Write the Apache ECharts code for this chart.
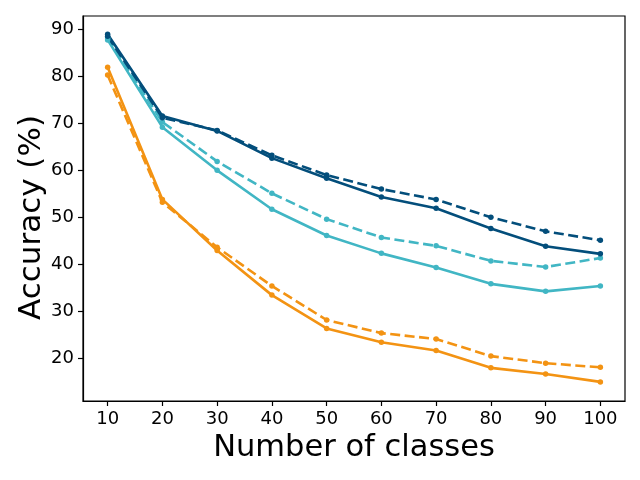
<!DOCTYPE html>
<html>
<head>
<meta charset="utf-8">
<script src="https://cdn.jsdelivr.net/npm/echarts@6/dist/echarts.min.js"></script>
<style>html,body{margin:0;padding:0;background:#fff}#c{width:640px;height:480px}</style>
</head>
<body>
<div id="c"></div>
<script>
const classes = [10, 20, 30, 40, 50, 60, 70, 80, 90, 100];
const darkSolid = [89.0, 71.6, 68.4, 62.6, 58.3, 54.3, 51.9, 47.6, 43.8, 42.2];
const darkDashed = [88.6, 71.2, 68.5, 63.2, 59.0, 56.0, 53.8, 50.0, 47.0, 45.1];
const cyanSolid = [87.8, 69.2, 60.0, 51.7, 46.1, 42.3, 39.3, 35.8, 34.2, 35.35];
const cyanDashed = [88.2, 70.3, 61.9, 55.1, 49.6, 45.7, 43.9, 40.7, 39.4, 41.3];
const orangeSolid = [82.0, 53.8, 42.9, 33.4, 26.3, 23.35, 21.6, 17.9, 16.6, 14.9];
const orangeDashed = [80.3, 53.2, 43.6, 35.35, 28.1, 25.3, 24.05, 20.4, 18.9, 18.0];
const xTicks = [10, 20, 30, 40, 50, 60, 70, 80, 90, 100];
const yTicks = [20, 30, 40, 50, 60, 70, 80, 90];

const DARK = '#034e7b', CYAN = '#41b6c4', ORANGE = '#f39313';
const font = 'DejaVu Sans';

function mk(vals, color, dashed) {
  return {
    type: 'line',
    data: classes.map((c, i) => [c, vals[i]]),
    symbol: 'circle',
    symbolSize: 5.5,
    showSymbol: true,
    itemStyle: { color: color },
    lineStyle: { color: color, width: 2.6, type: dashed ? [10, 4.5] : 'solid' },
    emphasis: { disabled: true },
    animation: false
  };
}

const chart = echarts.init(document.getElementById('c'), null, { renderer: 'canvas' });
chart.setOption({
  animation: false,
  grid: { left: 83, right: 15, top: 16, bottom: 79, show: true, borderColor: '#000', borderWidth: 1.2, backgroundColor: 'transparent' },
  xAxis: {
    type: 'value', min: 5.5, max: 104.5,
    name: 'Number of classes', nameLocation: 'middle', nameGap: 32, nameMoveOverlap: false,
    nameTextStyle: { fontFamily: font, fontSize: 30.5, color: '#000' },
    axisLine: { show: true, lineStyle: { color: '#000', width: 1.2 } },
    axisTick: { show: true, inside: false, length: 5, lineStyle: { color: '#000', width: 1.2 }, customValues: xTicks },
    axisLabel: { fontFamily: font, fontSize: 18, color: '#000', margin: 9, customValues: xTicks },
    splitLine: { show: false }
  },
  yAxis: {
    type: 'value', min: 10.83, max: 92.9,
    name: 'Accuracy (%)', nameLocation: 'middle', nameGap: 36, nameRotate: 90, nameMoveOverlap: false,
    nameTextStyle: { fontFamily: font, fontSize: 31, color: '#000', padding: [0, 18, 0, 0] },
    axisLine: { show: true, lineStyle: { color: '#000', width: 1.2 } },
    axisTick: { show: true, inside: false, length: 5, lineStyle: { color: '#000', width: 1.2 }, customValues: yTicks },
    axisLabel: { fontFamily: font, fontSize: 18, color: '#000', margin: 9, customValues: yTicks },
    splitLine: { show: false }
  },
  series: [
    mk(orangeSolid, ORANGE, false),
    mk(orangeDashed, ORANGE, true),
    mk(cyanSolid, CYAN, false),
    mk(cyanDashed, CYAN, true),
    mk(darkSolid, DARK, false),
    mk(darkDashed, DARK, true)
  ]
});
</script>
</body>
</html>
